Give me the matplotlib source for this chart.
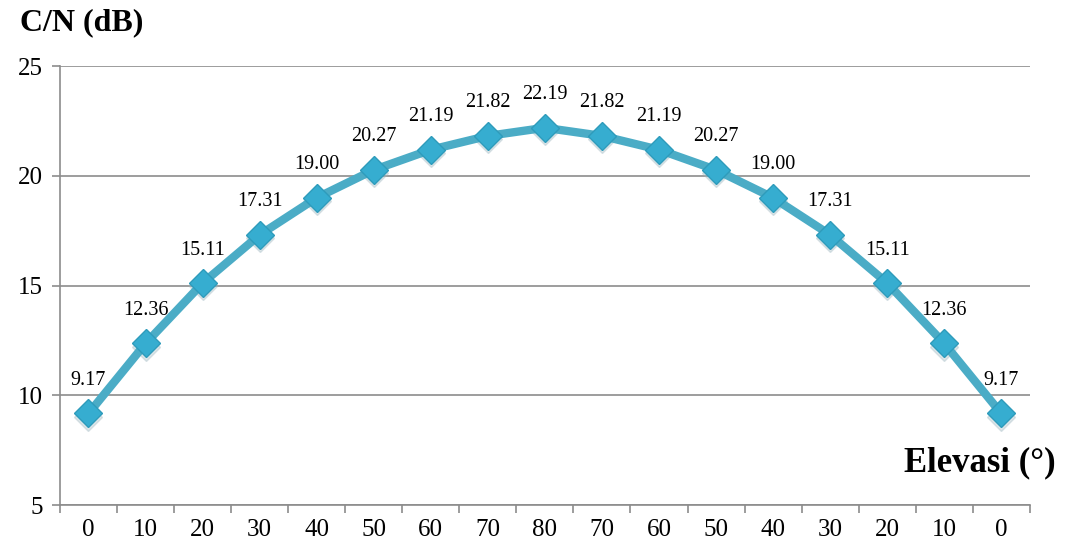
import matplotlib.pyplot as plt

# sudut elevasi dan nilai C/N
elevasi = ["0", "10", "20", "30", "40", "50", "60", "70", "80",
           "70", "60", "50", "40", "30", "20", "10", "0"]
cn_db = [9.17, 12.36, 15.11, 17.31, 19.00, 20.27, 21.19, 21.82, 22.19,
         21.82, 21.19, 20.27, 19.00, 17.31, 15.11, 12.36, 9.17]

plt.rcParams['font.family'] = ['Liberation Serif', 'DejaVu Serif']

fig = plt.figure(figsize=(10.65, 5.5), dpi=100)
ax = fig.add_axes([0.0563, 0.0818, 0.9107, 0.798])

x = list(range(len(cn_db)))
garis = "#4BACC6"

# bayangan tipis di bawah marker
ax.plot(x, [v - 0.15 for v in cn_db], linestyle="none", marker="D",
        markersize=14, color="#9fb8c0", alpha=0.35, zorder=2)
ax.plot(x, cn_db, color=garis, linewidth=6, zorder=3,
        solid_capstyle="round", solid_joinstyle="round")
ax.plot(x, cn_db, linestyle="none", marker="D", markersize=14,
        markerfacecolor="#36ADD0", markeredgecolor="#2E9BBB",
        markeredgewidth=1, zorder=4)

for xi, v in zip(x, cn_db):
    ax.annotate(f"{v:.2f}", (xi, v), xytext=(0, 17), textcoords="offset points",
                ha="center", va="bottom", fontsize=14.5)

ax.set_xlim(-0.5, len(cn_db) - 0.5)
ax.set_ylim(5, 25)
ax.set_yticks([5, 10, 15, 20, 25])
ax.set_xticks(x)
ax.set_xticklabels(elevasi)
ax.set_xticks([i - 0.5 for i in range(len(cn_db) + 1)], minor=True)

ax.grid(axis="y", color="#8c8c8c", linewidth=1.2, zorder=0)
ax.set_axisbelow(True)
for s in ["top", "right"]:
    ax.spines[s].set_visible(False)
for s in ["left", "bottom"]:
    ax.spines[s].set_color("#8c8c8c")
    ax.spines[s].set_linewidth(1.2)

ax.tick_params(axis="x", which="major", length=0, labelsize=18, pad=10)
ax.tick_params(axis="x", which="minor", length=6, color="#8c8c8c", width=1.2)
ax.tick_params(axis="y", length=6, color="#8c8c8c", width=1.2,
               labelsize=18, pad=6)

fig.text(0.019, 0.958, "C/N (dB)", fontsize=23, fontweight="bold",
         ha="left", va="center")
fig.text(0.991, 0.158, "Elevasi (°)", fontsize=25, fontweight="bold",
         ha="right", va="center")

fig.savefig("out.png", dpi=100)
